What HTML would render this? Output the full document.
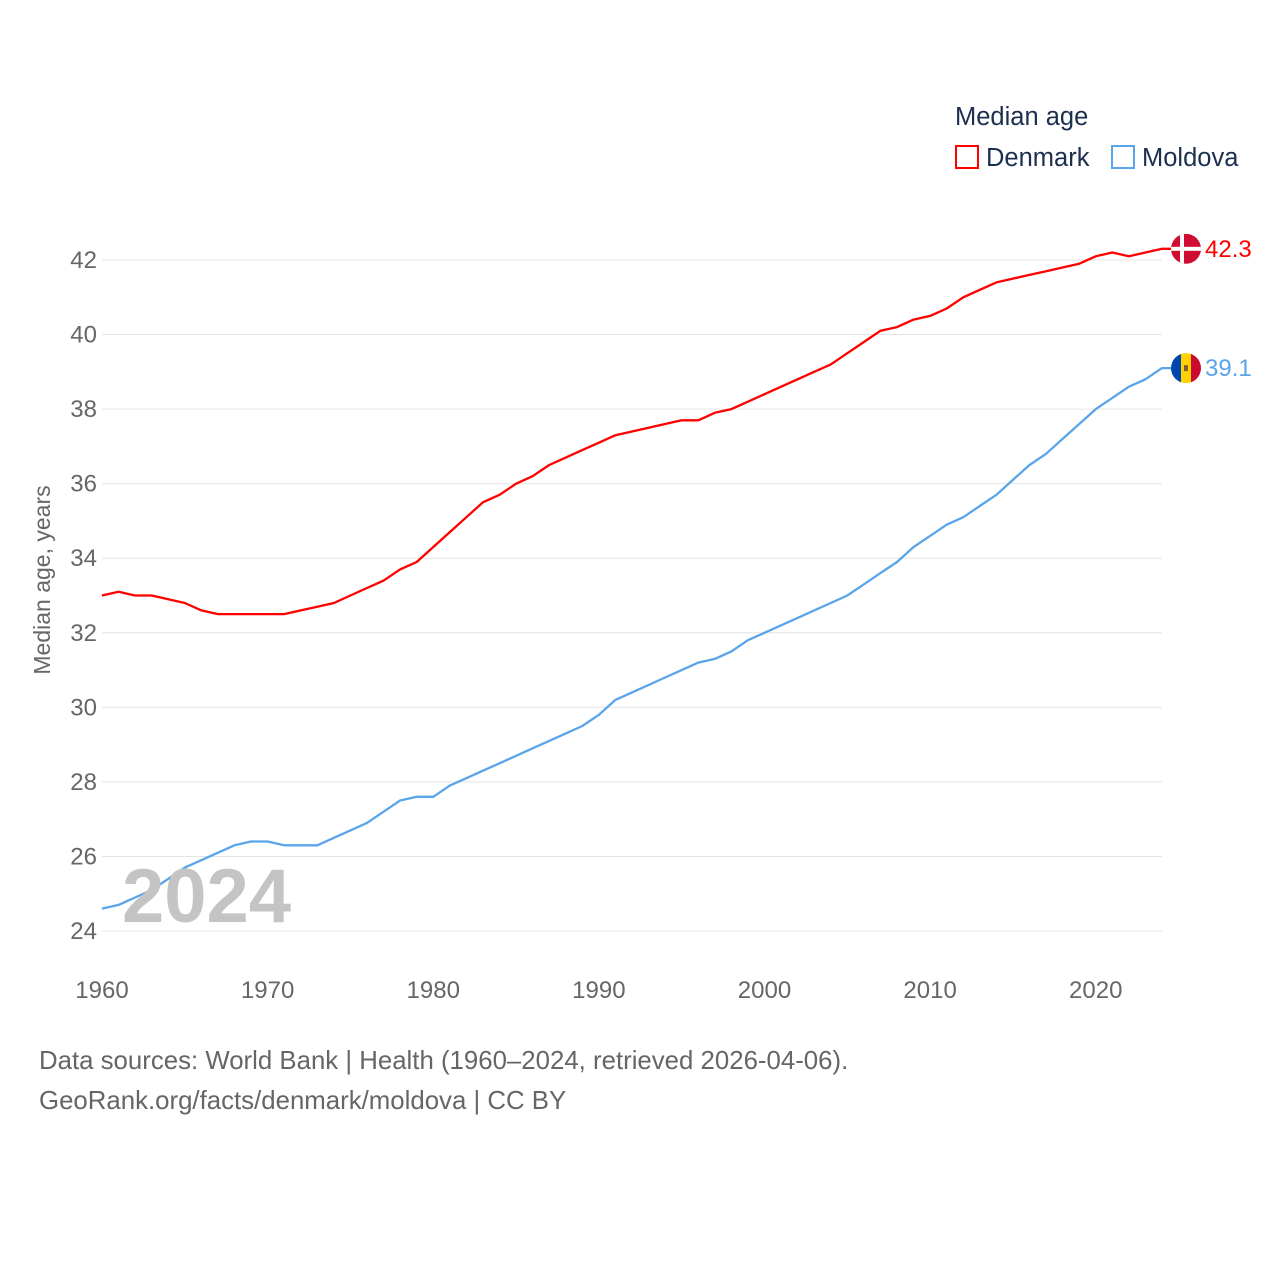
<!DOCTYPE html>
<html><head><meta charset="utf-8"><style>
body{margin:0;background:#fff;font-family:"Liberation Sans",sans-serif}
svg text{font-family:"Liberation Sans",sans-serif}
</style></head><body>
<svg id="chart" width="1280" height="1280" viewBox="0 0 1280 1280">
<g id="grid"></g><g id="lines"></g>
<text x="955" y="125" font-size="25.5" fill="#1d2f4f">Median age</text>
<rect x="956" y="146" width="22" height="22" fill="none" stroke="#f00" stroke-width="2"/>
<text x="986" y="166" font-size="25.5" fill="#1d2f4f">Denmark</text>
<rect x="1112" y="146" width="22" height="22" fill="none" stroke="#5aa5ea" stroke-width="2"/>
<text x="1142" y="166" font-size="25.5" fill="#1d2f4f">Moldova</text>
<text transform="translate(50,580) rotate(-90)" text-anchor="middle" font-size="23" fill="#666">Median age, years</text>
<text x="122" y="922" font-size="76" font-weight="bold" fill="#c4c4c4">2024</text>
<text x="39" y="1069" font-size="25.8" fill="#666">Data sources: World Bank | Health (1960–2024, retrieved 2026-04-06).</text>
<text x="39" y="1109" font-size="25.8" fill="#666">GeoRank.org/facts/denmark/moldova | CC BY</text>
</svg>
<script>
const years=[];for(let y=1960;y<=2024;y++)years.push(y);
const denmark=[33.0,33.1,33.0,33.0,32.9,32.8,32.6,32.5,32.5,32.5,32.5,32.5,32.6,32.7,32.8,33.0,33.2,33.4,33.7,33.9,34.3,34.7,35.1,35.5,35.7,36.0,36.2,36.5,36.7,36.9,37.1,37.3,37.4,37.5,37.6,37.7,37.7,37.9,38.0,38.2,38.4,38.6,38.8,39.0,39.2,39.5,39.8,40.1,40.2,40.4,40.5,40.7,41.0,41.2,41.4,41.5,41.6,41.7,41.8,41.9,42.1,42.2,42.1,42.2,42.3];
const moldova=[24.6,24.7,24.9,25.1,25.4,25.7,25.9,26.1,26.3,26.4,26.4,26.3,26.3,26.3,26.5,26.7,26.9,27.2,27.5,27.6,27.6,27.9,28.1,28.3,28.5,28.7,28.9,29.1,29.3,29.5,29.8,30.2,30.4,30.6,30.8,31.0,31.2,31.3,31.5,31.8,32.0,32.2,32.4,32.6,32.8,33.0,33.3,33.6,33.9,34.3,34.6,34.9,35.1,35.4,35.7,36.1,36.5,36.8,37.2,37.6,38.0,38.3,38.6,38.8,39.1];
const yTicks=[24,26,28,30,32,34,36,38,40,42];
const xTicks=[1960,1970,1980,1990,2000,2010,2020];
const X=y=>102+(y-1960)*(1162-102)/64;
const Y=v=>931-(v-24)*(931-260)/18;
const NS="http://www.w3.org/2000/svg";
function mk(t,a,p){const e=document.createElementNS(NS,t);for(const k in a)e.setAttribute(k,a[k]);p.appendChild(e);return e;}
const g=document.getElementById('grid'),L=document.getElementById('lines');
yTicks.forEach(v=>{
 const l=mk('line',{x1:102,x2:1162,y1:Y(v),y2:Y(v),stroke:'#e4e4e4','stroke-width':1},g);
 
 
 const t=mk('text',{x:97,y:Y(v)+8,'text-anchor':'end','font-size':24,fill:'#666'},g);t.textContent=v;
 
 
});
xTicks.forEach(v=>{
 const t=mk('text',{x:X(v),y:998,'text-anchor':'middle','font-size':24,fill:'#666'},g);t.textContent=v;
 
 
});
function series(vals,color,name){
 let d=vals.map((v,i)=>(i?'L':'M')+X(years[i]).toFixed(1)+','+Y(v).toFixed(1)).join('');
 d+='L1172,'+Y(vals[vals.length-1]).toFixed(1);
 const p=mk('path',{d:d,fill:'none',stroke:color,'stroke-width':2.3,'stroke-linejoin':'round'},L);
 
 
 const last=vals[vals.length-1];
 const t=mk('text',{x:1205,y:Y(last)+8,'font-size':24,fill:color},L);t.textContent=last.toFixed(1);
 
 
 return Y(last);
}
const yd=series(denmark,'#f00','denmark');
const ym=series(moldova,'#5aa5ea','moldova');
const fd=mk('g',{},L);


mk('clipPath',{id:'cd'},fd).appendChild(document.createElementNS(NS,'circle'));
const cd=document.querySelector('#cd circle');cd.setAttribute('cx',1186);cd.setAttribute('cy',yd);cd.setAttribute('r',15);
const gd=mk('g',{'clip-path':'url(#cd)'},fd);
mk('rect',{x:1171,y:yd-15,width:30,height:30,fill:'#d00c33'},gd);
mk('rect',{x:1180,y:yd-15,width:4,height:30,fill:'#fff'},gd);
mk('rect',{x:1171,y:yd-2,width:30,height:4,fill:'#fff'},gd);
const fm=mk('g',{},L);


mk('clipPath',{id:'cm'},fm).appendChild(document.createElementNS(NS,'circle'));
const cm=document.querySelector('#cm circle');cm.setAttribute('cx',1186);cm.setAttribute('cy',ym);cm.setAttribute('r',15);
const gm=mk('g',{'clip-path':'url(#cm)'},fm);
mk('rect',{x:1171,y:ym-15,width:10,height:30,fill:'#0046ae'},gm);
mk('rect',{x:1181,y:ym-15,width:10,height:30,fill:'#ffd200'},gm);
mk('rect',{x:1191,y:ym-15,width:10,height:30,fill:'#cc092f'},gm);
mk('rect',{x:1184,y:ym-3,width:4,height:6,fill:'#8a5a2b'},gm);
</script>
</body></html>
